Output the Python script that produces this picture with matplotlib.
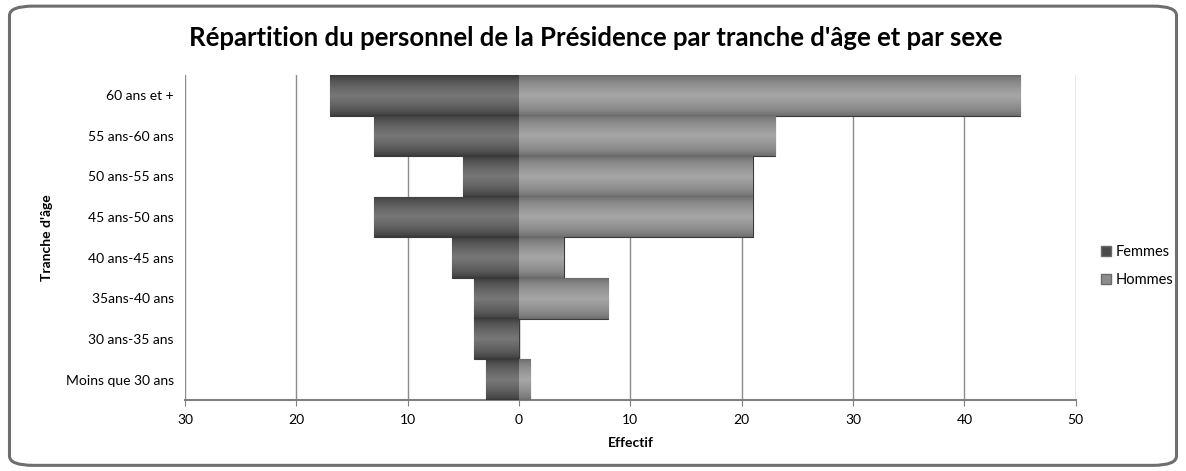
import numpy as np
import matplotlib
matplotlib.use("Agg")
import matplotlib.pyplot as plt
from matplotlib.patches import FancyBboxPatch

# =========================================================
# DONNÉES
# =========================================================
tranches = ["Moins que 30 ans", "30 ans-35 ans", "35ans-40 ans", "40 ans-45 ans",
            "45 ans-50 ans", "50 ans-55 ans", "55 ans-60 ans", "60 ans et +"]
femmes = [3, 4, 4, 6, 13, 5, 13, 17]
hommes = [1, 0, 8, 4, 21, 21, 23, 45]
xticks = [-30, -20, -10, 0, 10, 20, 30, 40, 50]

plt.rcParams["font.family"] = ["Lato", "DejaVu Sans"]

# =========================================================
# GRAPHIQUE
# =========================================================
fig = plt.figure(figsize=(11.86, 4.71), dpi=100)
ax = fig.add_axes([0.156, 0.151, 0.751, 0.690])

y = np.arange(len(tranches))

def barres_degradees(ax, valeurs, couleur_sombre, couleur_claire):
    bars = ax.barh(y, valeurs, height=1.0, color=couleur_sombre,
                   edgecolor="#3a3a3a", linewidth=0.8, zorder=3)
    grad = np.concatenate([np.linspace(0, 1, 50), np.linspace(1, 0, 50)]) ** 0.6
    grad = grad.reshape(-1, 1)
    cmap = matplotlib.colors.LinearSegmentedColormap.from_list(
        "g", [couleur_sombre, couleur_claire])
    for b in bars:
        x0, y0 = b.get_x(), b.get_y()
        w, h = b.get_width(), b.get_height()
        if w == 0:
            continue
        im = ax.imshow(grad, extent=[min(x0, x0 + w), max(x0, x0 + w), y0, y0 + h],
                       aspect="auto", cmap=cmap, zorder=3.5, origin="lower")
        im.set_clip_path(b)
    return bars

barres_degradees(ax, [-v for v in femmes], "#363636", "#777777")
barres_degradees(ax, hommes, "#686868", "#a6a6a6")

ax.set_xlim(-30, 50)
ax.set_ylim(-0.5, len(tranches) - 0.5)
ax.set_xticks(xticks)
ax.set_xticklabels([str(abs(v)) for v in xticks], fontsize=10)
ax.set_yticks(y)
ax.set_yticklabels(tranches, fontsize=10)
ax.tick_params(axis="y", length=0, pad=8)
ax.tick_params(axis="x", length=4, color="#808080", pad=6)

ax.grid(True, axis="x", color="#8c8c8c", linewidth=1.0, zorder=0)
ax.set_axisbelow(True)
for s in ["top", "right", "left"]:
    ax.spines[s].set_visible(False)
ax.spines["bottom"].set_color("#808080")
ax.spines["bottom"].set_linewidth(1.5)

ax.set_xlabel("Effectif", fontsize=10, fontweight="bold", labelpad=8)
ax.set_ylabel("Tranche d'âge", fontsize=10, fontweight="bold")
ax.yaxis.set_label_coords(-0.148, 0.5)

# légende
h1 = plt.Rectangle((0, 0), 1, 1, facecolor="#4a4a4a", edgecolor="#6a6a6a")
h2 = plt.Rectangle((0, 0), 1, 1, facecolor="#8c8c8c", edgecolor="#6a6a6a")
fig.legend([h1, h2], ["Femmes", "Hommes"], loc="center left",
           bbox_to_anchor=(0.917, 0.435), frameon=False, fontsize=10.5,
           handlelength=0.7, handleheight=0.7, handletextpad=0.3, labelspacing=1.0)

fig.suptitle("Répartition du personnel de la Présidence par tranche d'âge et par sexe",
             fontsize=18.5, fontweight="bold", x=0.502, y=0.945)

# cadre arrondi
cadre = FancyBboxPatch((0.008, 0.012), 0.984, 0.975, transform=fig.transFigure,
                       boxstyle="round,pad=0,rounding_size=0.02",
                       facecolor="none", edgecolor="#6e6e6e", linewidth=2.2)
fig.patches.append(cadre)

plt.savefig("out.png", dpi=100)
